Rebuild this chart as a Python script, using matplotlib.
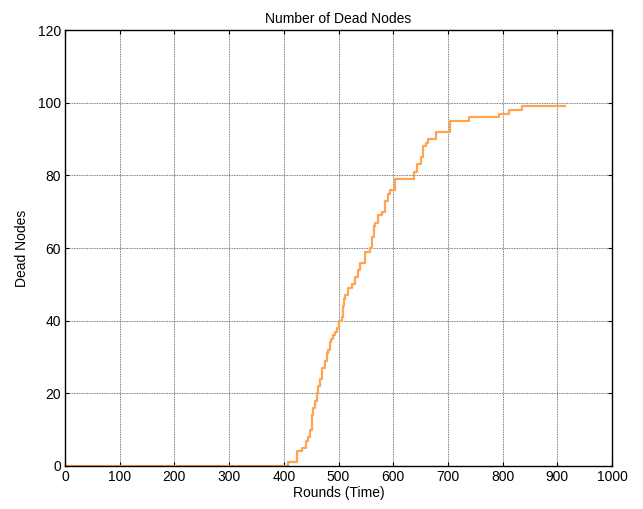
import matplotlib.pyplot as plt
import numpy as np

plt.rcParams['font.family'] = ['Liberation Sans', 'DejaVu Sans']

# round at which the dead-node count changes, and the count from that round on
rounds = [0, 408, 424, 433, 440, 444, 448, 451, 454, 457, 460, 463, 466, 470,
          475, 478, 481, 484, 487, 490, 493, 497, 500, 506, 508, 510, 512, 518,
          524, 530, 536, 540, 548, 557, 561, 564, 567, 572, 579, 585, 590, 594,
          603, 637, 643, 650, 655, 659, 664, 678, 704, 738, 793, 812, 835, 914]
dead = [0, 1, 4, 5, 7, 8, 10, 14, 16, 18, 20, 22, 24, 27,
        29, 31, 32, 34, 35, 36, 37, 38, 40, 41, 44, 46, 47, 49,
        50, 52, 54, 56, 59, 60, 63, 66, 67, 69, 70, 73, 75, 76,
        79, 81, 83, 85, 88, 89, 90, 92, 95, 96, 97, 98, 99, 99]

xticks = np.arange(0, 1001, 100)
yticks = np.arange(0, 121, 20)

fig = plt.figure(figsize=(6.43, 5.09), dpi=100)
ax = fig.add_axes([0.101, 0.0845, 0.851, 0.8565])

ax.step(rounds, dead, where='post', color='#FFA552', lw=1.6)

ax.set_xlim(0, 1000)
ax.set_ylim(0, 120)
ax.set_xticks(xticks)
ax.set_yticks(yticks)
ax.grid(True, color='0.3', linestyle=(0, (1, 1)), lw=0.6)
ax.tick_params(direction='in', top=True, right=True, labelsize=10,
               length=3, width=0.8, pad=3)
for s in ax.spines.values():
    s.set_linewidth(1.0)

ax.set_title('Number of Dead Nodes', fontsize=10, pad=5)
ax.set_xlabel('Rounds (Time)', fontsize=10, labelpad=1)
ax.set_ylabel('Dead Nodes', fontsize=10, labelpad=6)

fig.savefig('out.png', dpi=100)
